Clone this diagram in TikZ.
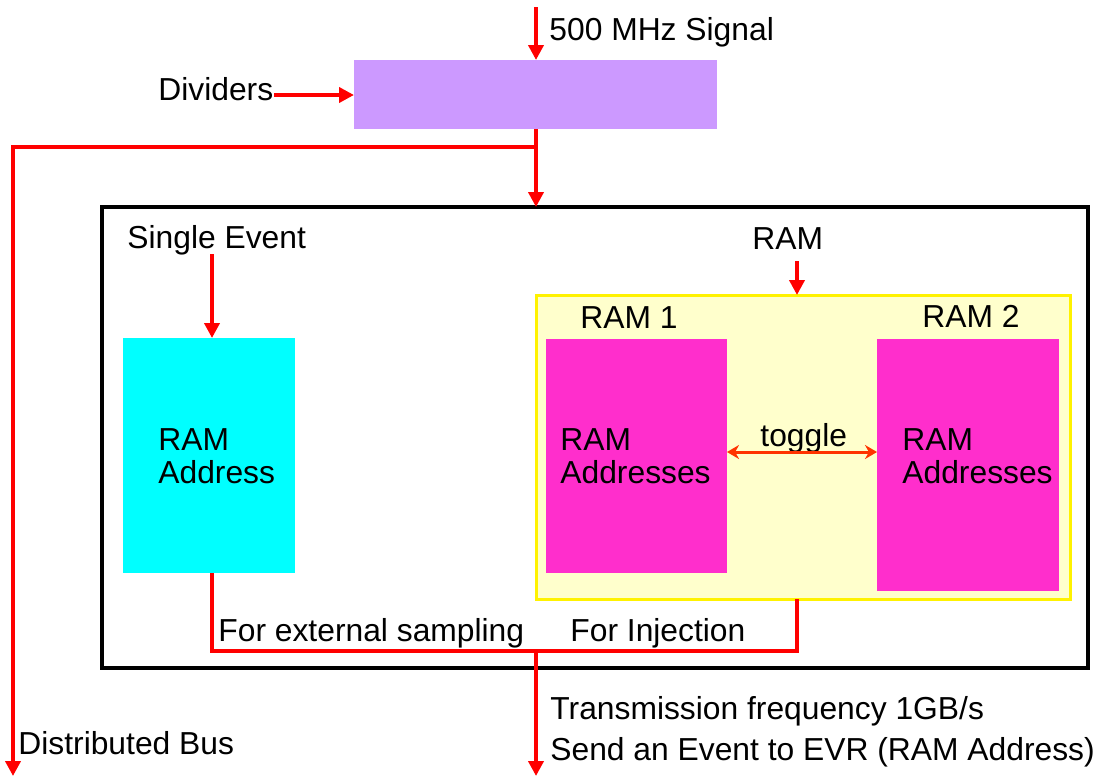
\documentclass[tikz,border=0pt]{standalone}
\usepackage{fontspec}
\setmainfont{Liberation Sans}
\usetikzlibrary{arrows.meta,fit}
\definecolor{lilac}{HTML}{CC99FF}
\definecolor{cyanbox}{HTML}{00FFFF}
\definecolor{magbox}{HTML}{FF2ECC}
\definecolor{paleyellow}{HTML}{FFFFCC}
\definecolor{togglered}{HTML}{FF3300}
\begin{document}
\begin{tikzpicture}[x=0.5pt,y=-0.5pt,
  sig/.style={draw=red, line width=2pt, -{Triangle[width=7.5pt,length=7.5pt]}},
  wire/.style={draw=red, line width=2pt},
  lbl/.style={inner sep=0pt, font=\fontsize{15.9}{16.5}\selectfont, anchor=base west},
  mlbl/.style={inner sep=0pt, font=\fontsize{15.9}{16.5}\selectfont, anchor=north west, align=left},
  blk/.style={inner sep=0pt, outer sep=0pt}]
\useasboundingbox[fill=white] (0,0) rectangle (1096,778);

% boxes
\node[blk, fill=lilac, fit={(354,60)(717,129)}] (div) {};
\node[blk, draw=black, line width=2pt, fit={(102,207)(1088,668)}] (outer) {};
\node[blk, fill=cyanbox, fit={(123,338)(295,573)}] (ramA) {};
\node[blk, draw=yellow, line width=1.5pt, fill=paleyellow, fit={(536,295)(1070,599)}] (ramblk) {};
\node[blk, fill=magbox, fit={(546,339)(727,573)}] (ram1) {};
\node[blk, fill=magbox, fit={(877,339)(1059,591)}] (ram2) {};

% labels
\node[lbl] (sig500) at (549,40) {500 MHz Signal};
\node[lbl] (divl) at (158,100) {Dividers};
\node[lbl] (single) at (127,248) {Single Event};
\node[lbl] (ramlbl) at (752,249) {RAM};
\node[lbl] (ram1l) at (580,328) {RAM 1};
\node[lbl] (ram2l) at (922,327) {RAM 2};
\node[mlbl] (ramAt) at (158,428) {RAM\\Address};
\node[mlbl] (ram1t) at (560,428) {RAM\\Addresses};
\node[mlbl] (ram2t) at (902,428) {RAM\\Addresses};
\node[lbl] (togl) at (760,446) {toggle};
\node[lbl] (extl) at (218,641) {For external sampling};
\node[lbl] (injl) at (570,641) {For Injection};
\node[lbl] (trans) at (550,719) {Transmission frequency 1GB/s};
\node[lbl] (send) at (550,760) {Send an Event to EVR (RAM Address)};
\node[lbl] (bus) at (18,754) {Distributed Bus};

% coordinates
\coordinate (sigin) at (536,7);
\coordinate (divin) at (274,95);
\coordinate (split) at (536,147);
\coordinate (busend) at (13,776);
\coordinate (seout) at (212,254);
\coordinate (ramin) at (797,261);
\coordinate (tg) at (800,452);
\coordinate (extout) at (212,573);
\coordinate (injout) at (797,599);
\coordinate (join) at (536,651);
\coordinate (evrend) at (536,776);

% connectors
\draw[sig] (sigin) -- (sigin |- div.north);
\draw[sig] (divin) -- (div.west |- divin);
\draw[sig] (sigin |- div.south) -- (sigin |- outer.north);
\draw[sig] (split) -| (busend);
\draw[sig] (seout) -- (seout |- ramA.north);
\draw[sig] (ramin) -- (ramin |- ramblk.north);
\draw[togglered, line width=1.5pt, {Stealth[length=6pt,width=7pt]}-{Stealth[length=6pt,width=7pt]}] (ram1.east |- tg) -- (ram2.west |- tg);
\draw[wire] (extout |- ramA.south) -- (extout |- join) -- (injout |- join) -- (injout |- ramblk.south);
\draw[sig] (join) -- (evrend);
\end{tikzpicture}
\end{document}
